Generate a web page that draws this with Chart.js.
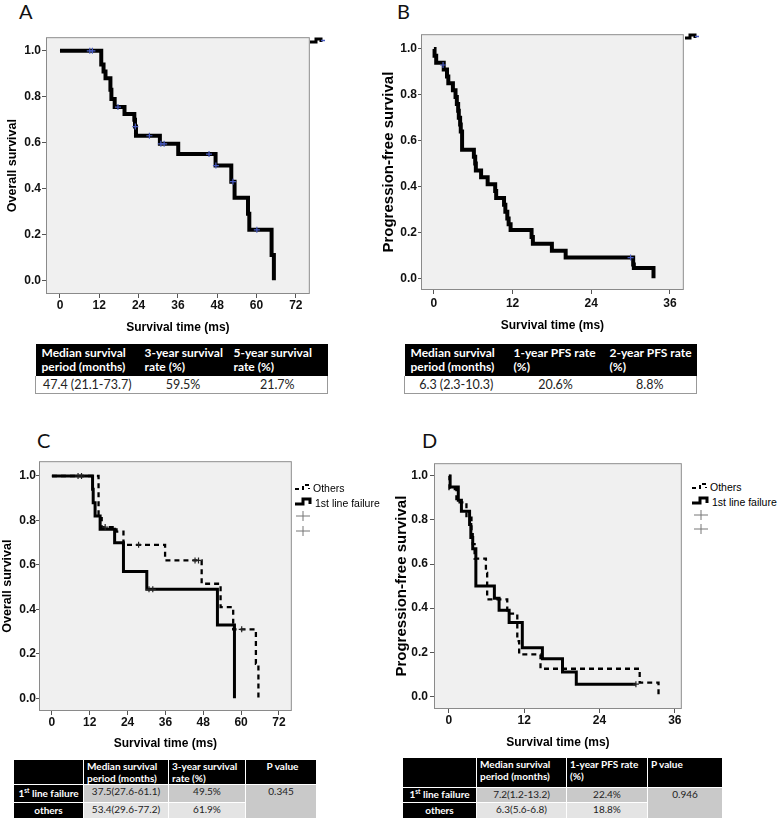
<!DOCTYPE html>
<html lang="en">
<head>
<meta charset="UTF-8">
<title>Survival curves</title>
<script src="https://cdn.jsdelivr.net/npm/chart.js"></script>
<style>
  body { margin: 0; background: #fff; }
  #page { position: relative; width: 777px; height: 818px; overflow: hidden; font-family: 'Liberation Sans', Arial, sans-serif; }
  canvas { position: absolute; }
  .lbl { position: absolute; font-family: Lato, 'Open Sans', sans-serif; font-size: 20px; line-height: 20px; color: #111; }
  .leg { position: absolute; font-size: 10.5px; line-height: 12px; color: #000; white-space: nowrap; }
  svg.ico { position: absolute; overflow: visible; }
  table { position: absolute; border-collapse: collapse; table-layout: fixed; font-family: Lato, 'Open Sans', sans-serif; }
  .tAB th { background: #000; color: #fff; font-weight: bold; font-size: 12px; line-height: 14px; text-align: left; padding: 2px 3px 2px 6px; height: 28px; }
  .tAB td { font-size: 12.5px; color: #222; text-align: center; height: 17px; padding: 0; border-bottom: 1px solid #999; }
  .tAB td:first-child { border-left: 1px solid #999; }
  .tAB td:last-child { border-right: 1px solid #999; }
  .tCD th, .tCD td { border: 1.5px solid #fff; padding: 0 0 0 3px; font-size: 10px; line-height: 11.5px; white-space: nowrap; overflow: hidden; }
  .tCD tr.hd th { background: #000; color: #fff; font-weight: bold; vertical-align: top; padding-top: 1px; }
  .tCD th.l { text-align: left; }
  .tCD th.rl { background: #000; color: #fff; font-weight: bold; text-align: center; padding: 0; }
  .tCD td { text-align: center; color: #222; vertical-align: top; padding: 1px 0 0 0; }
  .tCD sup { font-size: 6.5px; line-height: 0; }
  .g1 { background: #c9c9c9; }
  .g2 { background: #e4e4e4; }
</style>
</head>
<body>
<div id="page">
  <div class="lbl" style="left:19px;top:1px">A</div>
  <div class="lbl" style="left:397px;top:1px">B</div>
  <div class="lbl" style="left:37px;top:430px">C</div>
  <div class="lbl" style="left:422px;top:430px">D</div>

  <canvas id="chartA" width="314" height="305" style="left:0px;top:30px"></canvas>
  <canvas id="chartB" width="310" height="306" style="left:378px;top:27px"></canvas>
  <canvas id="chartC" width="296" height="296" style="left:0px;top:455px"></canvas>
  <canvas id="chartD" width="296" height="295" style="left:390px;top:455px"></canvas>

  <!-- clipped legend stubs top right of A and B -->
  <svg class="ico" style="left:310px;top:37px" width="16" height="8"><path d="M0,5 H6 V2 H11 V5" stroke="#000" stroke-width="3" fill="none"/><path d="M11,3.5 H15" stroke="#4a5cc0" stroke-width="1.5"/></svg>
  <svg class="ico" style="left:685px;top:33px" width="14" height="8"><path d="M0,5 H5 V2 H10 V5" stroke="#000" stroke-width="3" fill="none"/><path d="M10,3.5 H14" stroke="#4a5cc0" stroke-width="1.5"/></svg>

  <!-- legend C -->
  <svg class="ico" style="left:295px;top:483px" width="18" height="10"><path d="M0,6 H8 V2 H14 V6" stroke="#000" stroke-width="2" stroke-dasharray="4,3" fill="none"/></svg>
  <div class="leg" style="left:313px;top:482px">Others</div>
  <svg class="ico" style="left:295px;top:497px" width="18" height="10"><path d="M0,7 H8 V2 H15 V7" stroke="#000" stroke-width="3" fill="none"/></svg>
  <div class="leg" style="left:315px;top:497px">1st line failure</div>
  <svg class="ico" style="left:295px;top:511px" width="16" height="10"><path d="M1,5 H15 M8,0 V10" stroke="#777" stroke-width="1"/></svg>
  <svg class="ico" style="left:295px;top:526px" width="16" height="10"><path d="M1,5 H15 M8,0 V10" stroke="#777" stroke-width="1"/></svg>

  <!-- legend D -->
  <svg class="ico" style="left:692px;top:482px" width="18" height="10"><path d="M0,6 H8 V2 H14 V6" stroke="#000" stroke-width="2" stroke-dasharray="4,3" fill="none"/></svg>
  <div class="leg" style="left:710px;top:481px">Others</div>
  <svg class="ico" style="left:692px;top:496px" width="18" height="10"><path d="M0,7 H8 V2 H15 V7" stroke="#000" stroke-width="3" fill="none"/></svg>
  <div class="leg" style="left:712px;top:496px">1st line failure</div>
  <svg class="ico" style="left:693px;top:510px" width="16" height="10"><path d="M1,5 H15 M8,0 V10" stroke="#777" stroke-width="1"/></svg>
  <svg class="ico" style="left:693px;top:524px" width="16" height="10"><path d="M1,5 H15 M8,0 V10" stroke="#777" stroke-width="1"/></svg>

  <table class="tAB" style="left:35px;top:344px;width:292px">
    <colgroup><col style="width:103px"><col style="width:89px"><col style="width:100px"></colgroup>
    <tr><th>Median survival<br>period (months)</th><th>3-year survival<br>rate (%)</th><th>5-year survival<br>rate (%)</th></tr>
    <tr><td>47.4 (21.1-73.7)</td><td>59.5%</td><td>21.7%</td></tr>
  </table>

  <table class="tAB" style="left:404px;top:344px;width:292px">
    <colgroup><col style="width:103px"><col style="width:96px"><col style="width:93px"></colgroup>
    <tr><th>Median survival<br>period (months)</th><th>1-year PFS rate<br>(%)</th><th>2-year PFS rate<br>(%)</th></tr>
    <tr><td>6.3 (2.3-10.3)</td><td>20.6%</td><td>8.8%</td></tr>
  </table>

  <table class="tCD" style="left:13px;top:759px;width:303px">
    <colgroup><col style="width:70px"><col style="width:85px"><col style="width:77px"><col style="width:71px"></colgroup>
    <tr class="hd" style="height:25px"><th></th><th class="l">Median survival<br>period (months)</th><th class="l">3-year survival<br>rate (%)</th><th>P value</th></tr>
    <tr style="height:18px"><th class="rl">1<sup>st</sup> line failure</th><td class="g1">37.5(27.6-61.1)</td><td class="g1">49.5%</td><td class="g1" rowspan="2">0.345</td></tr>
    <tr style="height:17px"><th class="rl">others</th><td class="g2">53.4(29.6-77.2)</td><td class="g2">61.9%</td></tr>
  </table>

  <table class="tCD" style="left:402px;top:757px;width:320px">
    <colgroup><col style="width:74px"><col style="width:90px"><col style="width:81px"><col style="width:75px"></colgroup>
    <tr class="hd" style="height:30px"><th></th><th class="l">Median survival<br>period (months)</th><th class="l">1-year PFS rate<br>(%)</th><th class="l">P value</th></tr>
    <tr style="height:15px"><th class="rl">1<sup>st</sup> line failure</th><td class="g1">7.2(1.2-13.2)</td><td class="g1">22.4%</td><td class="g1" rowspan="2">0.946</td></tr>
    <tr style="height:16px"><th class="rl">others</th><td class="g2">6.3(5.6-6.8)</td><td class="g2">18.8%</td></tr>
  </table>
</div>

<script>
// ---- A: overall survival, all patients ----
const osTimes = [0, 12.6, 13.3, 13.9, 15.4, 15.7, 16.7, 19.7, 22.7, 22.9, 23.2, 30.5, 36.1, 47.5, 52.3, 53.3, 57.4, 57.8, 64.6, 65.3];
const osSurv  = [1.0, 0.94, 0.91, 0.88, 0.83, 0.79, 0.755, 0.725, 0.70, 0.67, 0.63, 0.595, 0.55, 0.50, 0.43, 0.36, 0.29, 0.22, 0.11, 0.0];
const osCensT = [9.1, 9.9, 17.7, 23.0, 27.3, 30.8, 31.8, 45.5, 47.6, 52.8, 60.1];
const osCensS = [1.0, 1.0, 0.755, 0.67, 0.63, 0.595, 0.595, 0.55, 0.50, 0.43, 0.22];

// ---- B: progression-free survival, all patients ----
const pfsTimes = [0, 0.1, 0.35, 1.5, 2.0, 2.2, 2.9, 3.3, 3.5, 3.7, 3.8, 4.0, 4.1, 4.3, 6.1, 6.3, 6.4, 7.2, 8.2, 9.35, 9.5, 10.7, 10.9, 11.2, 11.4, 11.7, 14.9, 15.1, 18.0, 20.1, 30.4, 30.5, 33.5];
const pfsSurv  = [1.0, 0.97, 0.94, 0.91, 0.88, 0.85, 0.82, 0.79, 0.76, 0.73, 0.70, 0.67, 0.64, 0.56, 0.53, 0.50, 0.47, 0.44, 0.41, 0.38, 0.35, 0.32, 0.29, 0.26, 0.235, 0.21, 0.18, 0.15, 0.12, 0.09, 0.06, 0.045, 0.0];
const pfsCensT = [1.4, 30.0];
const pfsCensS = [0.93, 0.09];

// ---- C: overall survival by group ----
const osFirstT = [0, 12.9, 13.1, 13.7, 15.3, 19.9, 22.7, 30.1, 52.5, 57.9];
const osFirstS = [1.0, 0.94, 0.88, 0.82, 0.76, 0.70, 0.57, 0.49, 0.33, 0.0];
const osFirstCensT = [8.3, 9.4, 30.8, 32.0];
const osFirstCensS = [1.0, 1.0, 0.49, 0.49];
const osOtherT = [0, 14.8, 15.8, 20.5, 22.7, 35.9, 47.5, 53.5, 57.5, 64.7, 65.5];
const osOtherS = [1.0, 0.81, 0.77, 0.75, 0.69, 0.62, 0.515, 0.41, 0.31, 0.155, 0.0];
const osOtherCensT = [16.9, 27.5, 45.4, 46.5, 60.2];
const osOtherCensS = [0.77, 0.69, 0.62, 0.62, 0.31];

// ---- D: progression-free survival by group ----
const pfsFirstT = [0, 0.2, 1.5, 2.0, 3.3, 3.5, 3.8, 4.3, 7.25, 8.0, 9.6, 11.7, 14.9, 18.1, 20.3, 29.8];
const pfsFirstS = [1.0, 0.95, 0.89, 0.84, 0.78, 0.72, 0.67, 0.50, 0.445, 0.39, 0.335, 0.22, 0.17, 0.11, 0.055, 0.055];
const pfsFirstCensT = [29.8];
const pfsFirstCensS = [0.055];
const pfsOtherT = [0, 0.1, 1.2, 2.8, 3.6, 3.8, 4.1, 5.9, 6.1, 9.3, 10.9, 11.2, 14.6, 30.4, 33.4];
const pfsOtherS = [1.0, 0.94, 0.88, 0.81, 0.75, 0.69, 0.625, 0.56, 0.44, 0.375, 0.25, 0.19, 0.125, 0.0625, 0.0];

const yTicks = [0, 0.2, 0.4, 0.6, 0.8, 1.0];
const xTicks72 = [0, 12, 24, 36, 48, 60, 72];
const xTicks36 = [0, 12, 24, 36];

const pts = (t, s) => t.map((x, i) => ({ x: x, y: s[i] }));

function curve(t, s, width, dash) {
  return { data: pts(t, s), stepped: 'before', borderColor: '#000', borderWidth: width,
           borderDash: dash || [], pointRadius: 0, fill: false, borderCapStyle: 'butt', borderJoinStyle: 'miter' };
}
function censors(t, s, color) {
  return { data: pts(t, s), showLine: false, pointStyle: 'cross', pointRadius: 3,
           pointBorderColor: color, pointBorderWidth: 1.2, pointBackgroundColor: color };
}

// grey plot box like SPSS
const framePlugin = {
  id: 'frame',
  beforeDraw(chart) {
    const a = chart.chartArea, ctx = chart.ctx;
    ctx.save();
    ctx.fillStyle = '#f0f0f0';
    ctx.fillRect(a.left, a.top, a.right - a.left, a.bottom - a.top);
    ctx.restore();
  },
  afterDraw(chart) {
    const a = chart.chartArea, ctx = chart.ctx;
    ctx.save();
    ctx.strokeStyle = '#8a8a8a';
    ctx.lineWidth = 1;
    ctx.strokeRect(a.left - 0.5, a.top - 0.5, a.right - a.left + 1, a.bottom - a.top + 1);
    ctx.restore();
  }
};

function kmChart(id, o) {
  const tickFont = { family: 'Liberation Sans', size: 12, weight: 'bold' };
  return new Chart(document.getElementById(id), {
    type: 'line',
    data: { datasets: o.datasets },
    options: {
      responsive: false,
      animation: false,
      layout: { padding: { top: 2, right: 3, left: 0, bottom: 0 } },
      plugins: { legend: { display: false }, tooltip: { enabled: false } },
      scales: {
        x: {
          type: 'linear', min: o.xMin, max: o.xMax,
          afterBuildTicks: a => { a.ticks = o.xTicks.map(v => ({ value: v })); },
          afterFit: s => { s.height = o.xH; },
          grid: { drawOnChartArea: false, tickLength: 5, color: '#555' },
          border: { display: false },
          ticks: { font: tickFont, color: '#111', padding: o.xPad, maxRotation: 0, autoSkip: false, callback: v => String(v) },
          title: { display: true, text: 'Survival time (ms)', color: '#000', padding: 0,
                   font: { family: 'Liberation Sans', size: 12, weight: 'bold' } }
        },
        y: {
          type: 'linear', min: o.yMin, max: o.yMax,
          afterBuildTicks: a => { a.ticks = yTicks.map(v => ({ value: v })); },
          afterFit: s => { s.width = o.yW; },
          grid: { drawOnChartArea: false, tickLength: o.yTl, color: '#555' },
          border: { display: false },
          ticks: { font: tickFont, color: '#111', padding: o.yPad, autoSkip: false, callback: v => v.toFixed(1) },
          title: { display: true, text: o.yTitle, color: '#000', padding: { top: o.yTitlePad, bottom: 0 },
                   font: { family: 'Liberation Sans', size: o.yTitleSize, weight: 'bold' } }
        }
      }
    },
    plugins: [framePlugin]
  });
}

kmChart('chartA', {
  datasets: [censors(osCensT, osCensS, '#4a5cc0'), curve(osTimes, osSurv, 4)],
  xMin: -3.96, xMax: 75.96, yMin: -0.055, yMax: 1.055, xTicks: xTicks72,
  xH: 42, xPad: 0, yW: 47, yTl: 5, yPad: 1,
  yTitle: 'Overall survival', yTitleSize: 12.5, yTitlePad: 5.5
});

kmChart('chartB', {
  datasets: [censors(pfsCensT, pfsCensS, '#4a5cc0'), curve(pfsTimes, pfsSurv, 4)],
  xMin: -1.815, xMax: 37.97, yMin: -0.047, yMax: 1.06, xTicks: xTicks36,
  xH: 44, xPad: 2, yW: 44, yTl: 4, yPad: 1,
  yTitle: 'Progression-free survival', yTitleSize: 15, yTitlePad: 2
});

kmChart('chartC', {
  datasets: [censors(osFirstCensT, osFirstCensS, '#222'), censors(osOtherCensT, osOtherCensS, '#222'),
             curve(osFirstT, osFirstS, 3), curve(osOtherT, osOtherS, 2.3, [5, 4])],
  xMin: -3.77, xMax: 75.77, yMin: -0.053, yMax: 1.062, xTicks: xTicks72,
  xH: 41, xPad: 0, yW: 40, yTl: 4, yPad: 0,
  yTitle: 'Overall survival', yTitleSize: 12.5, yTitlePad: 0
});

kmChart('chartD', {
  datasets: [censors(pfsFirstCensT, pfsFirstCensS, '#222'),
             curve(pfsFirstT, pfsFirstS, 3), curve(pfsOtherT, pfsOtherS, 2.3, [5, 4])],
  xMin: -2.21, xMax: 36.95, yMin: -0.053, yMax: 1.053, xTicks: xTicks36,
  xH: 42, xPad: 0, yW: 45, yTl: 5, yPad: 2,
  yTitle: 'Progression-free survival', yTitleSize: 15, yTitlePad: 3
});
</script>
</body>
</html>
